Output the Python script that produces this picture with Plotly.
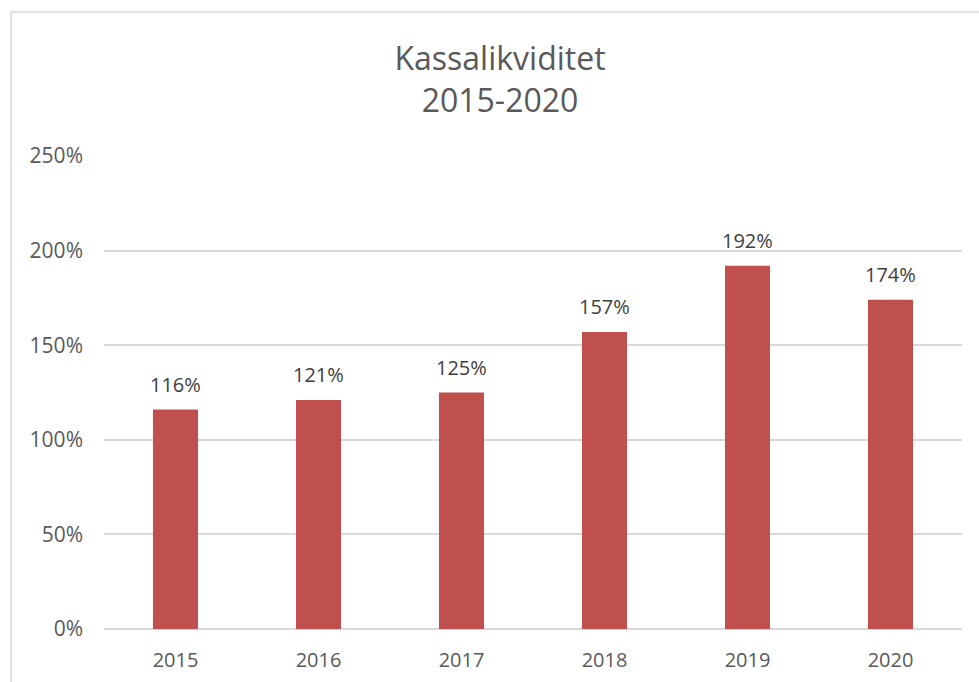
import plotly.graph_objects as go

years = ["2015", "2016", "2017", "2018", "2019", "2020"]
values = [116, 121, 125, 157, 192, 174]
labels = [f"{v}%" for v in values]
y_ticks = [0, 50, 100, 150, 200, 250]
y_tick_text = [f"{t}%" for t in y_ticks]

W, H = 979, 682
L, R, T, B = 104, 17, 156, 53
pw, ph = W - L - R, H - T - B
FONT = "Open Sans, Liberation Sans, sans-serif"

fig = go.Figure()
fig.add_trace(go.Bar(
    x=years, y=values,
    marker=dict(color="#C0504D", line=dict(width=0)),
    hoverinfo="skip",
))

for i, (v, t) in enumerate(zip(values, labels)):
    fig.add_annotation(x=i, y=v, text=t, showarrow=False, yanchor="bottom",
                       yshift=10, font=dict(size=20, color="#404040", family=FONT))

fig.add_shape(type="rect", xref="paper", yref="paper",
              x0=(11 - L) / pw, x1=1.2, y0=-0.3, y1=(H - B - 12) / ph,
              line=dict(color="#D9D9D9", width=1.5), layer="below")

fig.update_layout(
    width=W, height=H,
    margin=dict(l=L, r=R, t=T, b=B),
    paper_bgcolor="white", plot_bgcolor="white",
    bargap=0.685,
    showlegend=False,
    title=dict(text="Kassalikviditet<br>2015-2020", x=500 / W, xref="container",
               xanchor="center", y=1 - 70 / H, yanchor="top",
               font=dict(size=32, color="#595959", family=FONT)),
    font=dict(family=FONT, color="#595959", size=20),
    xaxis=dict(type="category", range=[-0.5, len(years) - 0.5],
               showgrid=False, showline=False, ticks="", automargin=False,
               ticklabelstandoff=17,
               tickfont=dict(size=20, color="#595959"), fixedrange=True),
    yaxis=dict(range=[0, 250], tickvals=y_ticks, ticktext=y_tick_text,
               showgrid=True, gridcolor="#D9D9D9", gridwidth=1.5,
               zeroline=True, zerolinecolor="#D9D9D9", zerolinewidth=1.5,
               showline=False, ticks="", ticklabelstandoff=20, automargin=False,
               tickfont=dict(size=21, color="#595959"), fixedrange=True),
)

fig.write_html("out.html")
